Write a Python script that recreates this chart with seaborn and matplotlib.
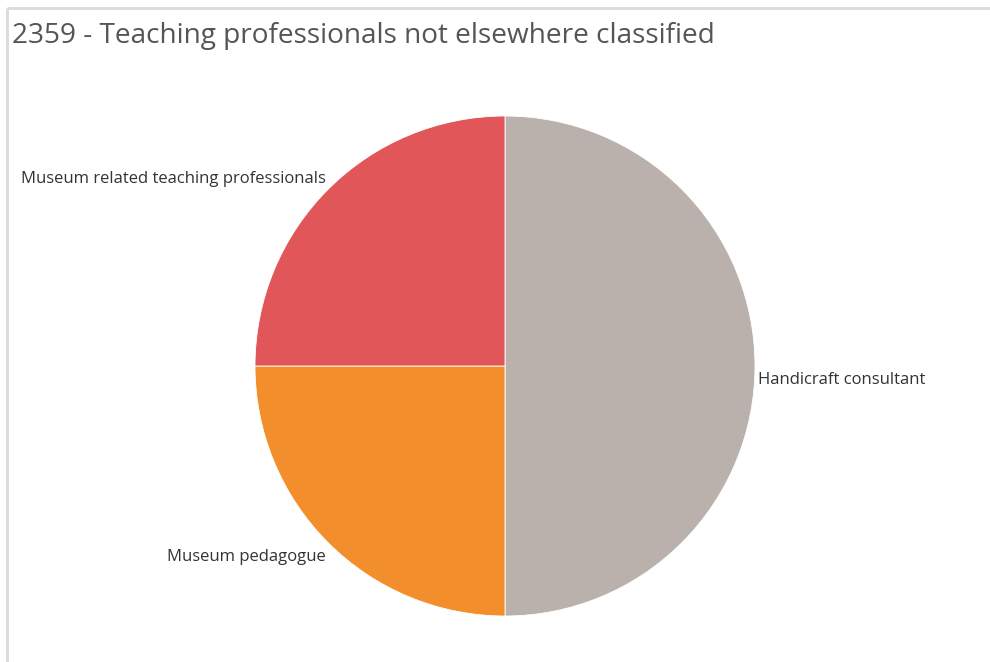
import numpy as np
import matplotlib
matplotlib.use("Agg")
import matplotlib.pyplot as plt
import seaborn as sns

title = "2359 - Teaching professionals not elsewhere classified"
categories = ["Handicraft consultant", "Museum pedagogue", "Museum related teaching professionals"]
values = [2, 1, 1]
colors = ["#bab0ac", "#f28e2b", "#e15759"]

sns.set_theme(style="white")
plt.rcParams["font.family"] = ["Open Sans", "DejaVu Sans"]

W, H = 990, 662
fig = plt.figure(figsize=(W / 100, H / 100), dpi=100)
ax = fig.add_axes([0, 0, 1, 1])
ax.set_xlim(0, W)
ax.set_ylim(0, H)
ax.set_aspect("equal")
ax.axis("off")

# frame lines along the top and left edges
ax.plot([6.5, W], [H - 7.5, H - 7.5], color="#dadada", lw=2, solid_capstyle="butt")
ax.plot([6.5, 6.5], [0, H - 7.5], color="#dadada", lw=2, solid_capstyle="butt")

cx, cy, r = 505, H - 366, 250
wedges, _ = ax.pie(values, colors=colors, startangle=90, counterclock=False,
                   center=(cx, cy), radius=r,
                   wedgeprops=dict(linewidth=0.6, edgecolor="white"))
ax.set_xlim(0, W)
ax.set_ylim(0, H)

for w, lab in zip(wedges, categories):
    mid = np.deg2rad((w.theta1 + w.theta2) / 2)
    x = cx + r * np.cos(mid)
    y = cy + r * np.sin(mid)
    ha = "left" if np.cos(mid) > 0.01 else "right"
    dx = 3 if ha == "left" else -2
    if np.sin(mid) > 0.01:
        ax.text(x + dx, y + 2, lab, ha=ha, va="bottom", fontsize=12, color="#333333")
    else:
        ax.text(x + dx, y - 6, lab, ha=ha, va="top", fontsize=12, color="#333333")

fig.text(12 / W, 1 - 36 / H, title, ha="left", va="center", fontsize=20.2,
         color="#555555")

fig.savefig("out.png", dpi=100)
